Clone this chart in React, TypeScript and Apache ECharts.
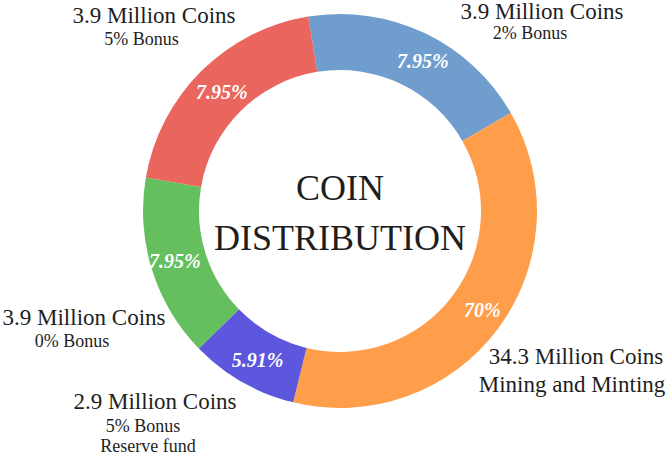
import React, { useEffect, useRef } from "react";
import * as echarts from "echarts";

const sliceNames = ["Bonus 2%", "Mining and Minting", "Reserve fund", "Bonus 0%", "Bonus 5%"];
const sliceValues = [19.3, 37.1, 8.9, 15.0, 19.7];
const percentLabels = ["7.95%", "70%", "5.91%", "7.95%", "7.95%"];
const sliceColors = ["#6F9ECE", "#FF9E4A", "#5C57DD", "#65BF5F", "#EA655D"];

const coinLabels = [
  "3.9 Million Coins",
  "34.3 Million Coins",
  "2.9 Million Coins",
  "3.9 Million Coins",
  "3.9 Million Coins",
];
const noteLabels = [
  ["2% Bonus"],
  ["Mining and Minting"],
  ["5% Bonus", "Reserve fund"],
  ["0% Bonus"],
  ["5% Bonus"],
];
const titleLines = ["COIN", "DISTRIBUTION"];

const SERIF = "'Liberation Serif', 'Times New Roman', serif";

export default function App() {
  const ref = useRef<HTMLDivElement>(null);

  useEffect(() => {
    if (!ref.current) return;
    const chart = echarts.init(ref.current, undefined, { renderer: "svg" });

    const textPos: { x: number; y: number; big: boolean }[][] = [
      [
        { x: 542, y: 11, big: true },
        { x: 530, y: 33, big: false },
      ],
      [
        { x: 576, y: 356, big: true },
        { x: 572, y: 384, big: true },
      ],
      [
        { x: 155, y: 401, big: true },
        { x: 143, y: 426, big: false },
        { x: 148, y: 445.5, big: false },
      ],
      [
        { x: 84, y: 317, big: true },
        { x: 72, y: 341, big: false },
      ],
      [
        { x: 154, y: 15.5, big: true },
        { x: 141.5, y: 39, big: false },
      ],
    ];
    const labelOffsets = [
      [9, 5],
      [5, -4],
      [3, 0],
      [-1, -1],
      [3, 3],
    ];

    const graphics: any[] = [];
    coinLabels.forEach((c, i) => {
      const lines = [c, ...noteLabels[i]];
      lines.forEach((t, j) => {
        const p = textPos[i][j];
        graphics.push({
          type: "text",
          x: p.x,
          y: p.y,
          style: {
            text: t,
            fill: "#1e1e1e",
            font: `${p.big ? 23 : 18}px ${SERIF}`,
            lineHeight: p.big ? 20 : 14,
            align: "center",
            verticalAlign: "middle",
          },
        });
      });
    });
    titleLines.forEach((t, j) => {
      graphics.push({
        type: "text",
        x: 340,
        y: j === 0 ? 188 : 238,
        style: {
          text: t,
          fill: "#1e1e1e",
          font: `36px ${SERIF}`,
          align: "center",
          verticalAlign: "middle",
        },
      });
    });

    chart.setOption({
      animation: false,
      backgroundColor: "#fff",
      graphic: graphics,
      series: [
        {
          type: "pie",
          center: [340, 211],
          radius: [141, 197],
          startAngle: 99.3,
          clockwise: true,
          avoidLabelOverlap: false,
          silent: true,
          label: {
            show: true,
            position: "inside",
            color: "#fff",
            fontFamily: SERIF,
            fontStyle: "italic",
            fontWeight: "bold",
            fontSize: 20,
            formatter: (p: any) => percentLabels[p.dataIndex],
          },
          labelLine: { show: false },
          itemStyle: { borderWidth: 0 },
          data: sliceValues.map((v, i) => ({
            name: sliceNames[i],
            value: v,
            itemStyle: { color: sliceColors[i] },
            label: { offset: labelOffsets[i] },
          })),
        },
      ],
    });
    return () => chart.dispose();
  }, []);

  return (
    <div
      ref={ref}
      style={{ position: "fixed", left: 0, top: 0, width: 667, height: 454, background: "#fff" }}
    />
  );
}
